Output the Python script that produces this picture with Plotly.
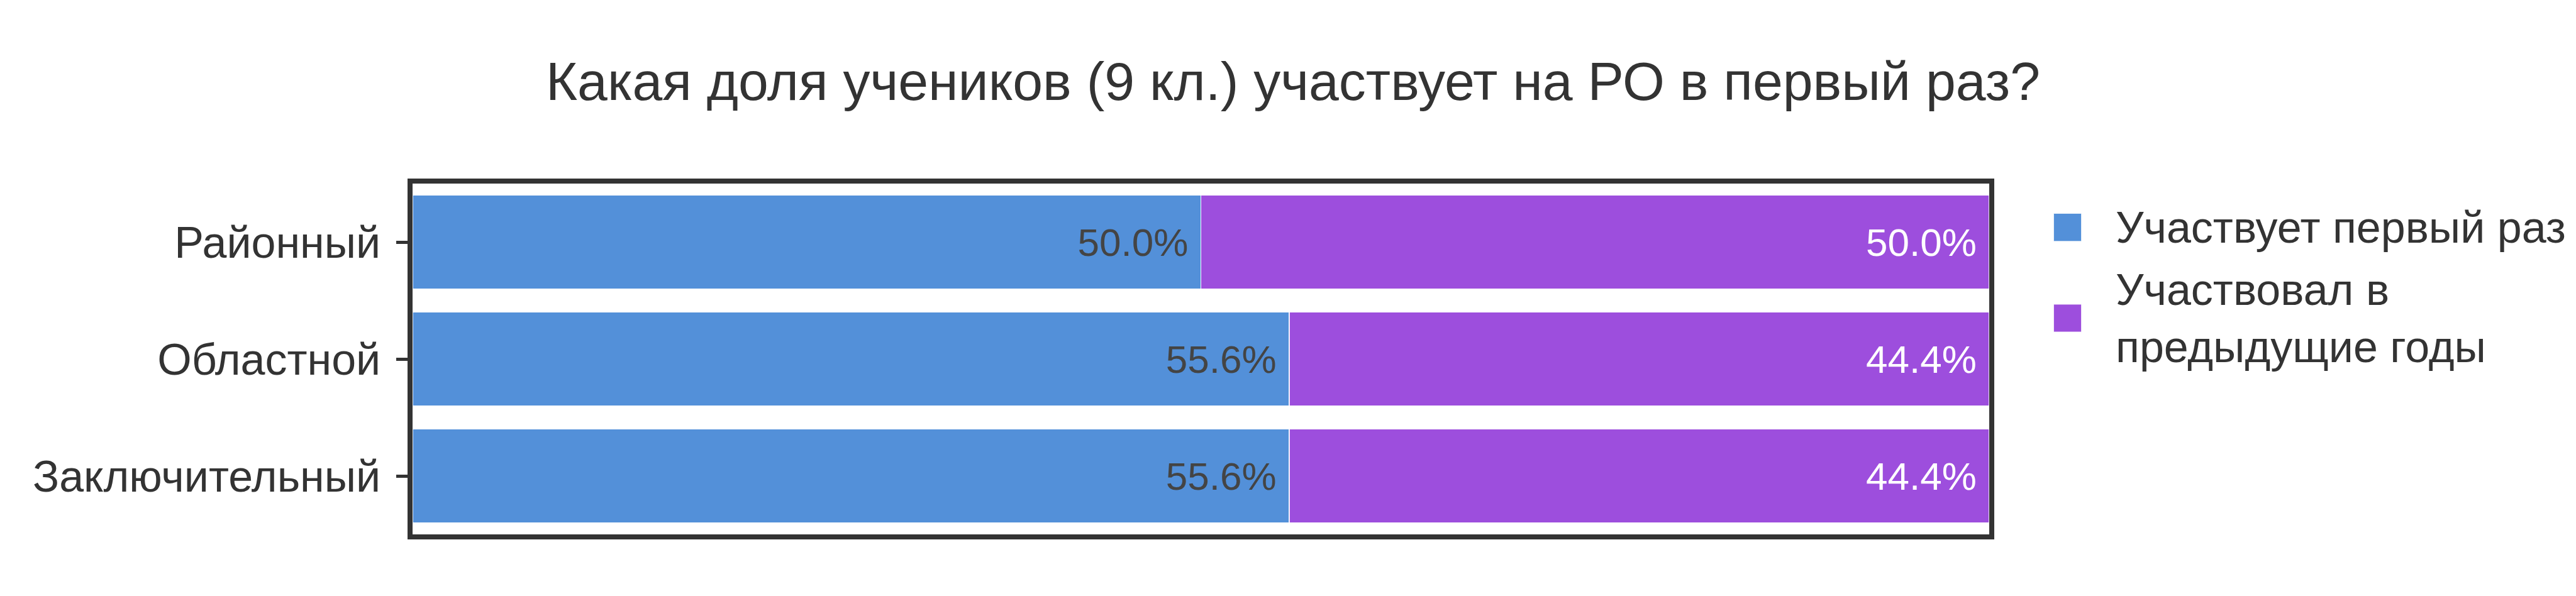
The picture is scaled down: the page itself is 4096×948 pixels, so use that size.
import plotly.graph_objects as go

# ---- data ----
stages = ["Районный", "Областной", "Заключительный"]
first_time = [50.0, 55.6, 55.6]
previous_years = [50.0, 44.4, 44.4]
series_names = ["Участвует первый раз", "Участвовал в предыдущие годы"]
legend_labels = ["Участвует первый раз", "Участвовал в<br>предыдущие годы"]
title_text = "Какая доля учеников (9 кл.) участвует на РО в первый раз?"

colors = ["#5390d9", "#9d4edd"]
text_colors = ["#444444", "#ffffff"]
FONT = "Liberation Sans, Arial, Helvetica, sans-serif"

W, H = 4096, 948
ML, MR, MT, MB = 648, 941, 284, 106

fig = go.Figure()
for name, vals, col, tcol in zip(series_names, [first_time, previous_years], colors, text_colors):
    fig.add_trace(go.Bar(
        y=stages, x=vals, name=name, orientation="h",
        marker=dict(color=col, line=dict(color="rgba(255,255,255,0.85)", width=1.5)),
        texttemplate="%{x:.1f}%\u00a0", textposition="inside", insidetextanchor="end",
        textangle=0,
        insidetextfont=dict(family=FONT, size=62, color=tcol),
        showlegend=False,
    ))

# manual legend (large symbols, matching reference proportions)
plot_w = W - ML - MR
plot_h = H - MT - MB
sym_cx = (3279.5 - ML) / plot_w
txt_x = (3354 - ML) / plot_w
sym_cy = [(H - MB - 353.6) / plot_h, (H - MB - 498) / plot_h]
shapes = []
annotations = []
for i, (lab, col) in enumerate(zip(legend_labels, colors)):
    shapes.append(dict(
        type="rect", xref="paper", yref="paper",
        xsizemode="pixel", ysizemode="pixel",
        xanchor=sym_cx, yanchor=sym_cy[i],
        x0=-22.3, x1=22.3, y0=-22.3, y1=22.3,
        fillcolor=col, line=dict(color="rgba(255,255,255,0.85)", width=1.5),
    ))
    annotations.append(dict(
        xref="paper", yref="paper", x=txt_x, y=sym_cy[i],
        xanchor="left", yanchor="middle", align="left",
        text=lab, showarrow=False,
        font=dict(family=FONT, size=70, color="#333333"),
    ))

fig.update_layout(
    width=W, height=H,
    margin=dict(l=ML, r=MR, t=MT, b=MB, autoexpand=False),
    barmode="stack", bargap=0.2,
    paper_bgcolor="white", plot_bgcolor="white",
    font=dict(family=FONT, size=70, color="#333333"),
    title=dict(text=title_text, x=0.5, xanchor="center", xref="container",
               y=1 - 150.5 / H, yanchor="bottom", yref="container",
               font=dict(family=FONT, size=86, color="#333333")),
    xaxis=dict(range=[0, 100], showticklabels=False, showgrid=False, zeroline=False,
               showline=True, linecolor="#333333", linewidth=7.6, mirror=True,
               ticks=""),
    yaxis=dict(autorange="reversed", showgrid=False, zeroline=False,
               showline=True, linecolor="#333333", linewidth=7.6, mirror=True,
               ticks="outside", ticklen=18, tickwidth=4.5, tickcolor="#333333",
               ticklabelstandoff=11,
               tickfont=dict(family=FONT, size=70, color="#333333")),
    shapes=shapes, annotations=annotations,
)

fig.write_html("out.html")
